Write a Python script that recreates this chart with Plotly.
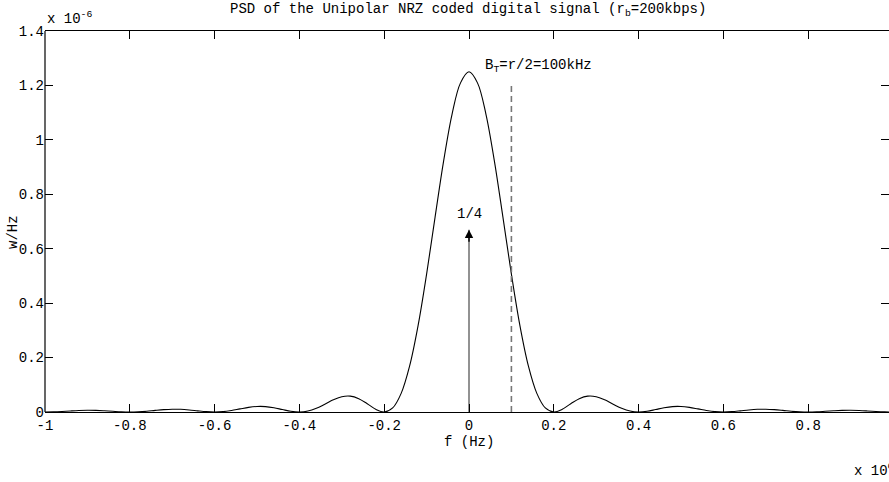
import plotly.graph_objects as go

# ---- data ----
freq_mhz = [
    -1.00, -0.98, -0.96, -0.94, -0.92, -0.90, -0.88, -0.86, -0.84, -0.82,
    -0.80, -0.78, -0.76, -0.74, -0.72, -0.70, -0.68, -0.66, -0.64, -0.62,
    -0.60, -0.58, -0.56, -0.54, -0.52, -0.50, -0.48, -0.46, -0.44, -0.42,
    -0.40, -0.38, -0.36, -0.34, -0.32, -0.30, -0.28, -0.26, -0.24, -0.22,
    -0.20, -0.18, -0.16, -0.14, -0.12, -0.10, -0.08, -0.06, -0.04, -0.02,
    0.00,
    0.02, 0.04, 0.06, 0.08, 0.10, 0.12, 0.14, 0.16, 0.18, 0.20,
    0.22, 0.24, 0.26, 0.28, 0.30, 0.32, 0.34, 0.36, 0.38, 0.40,
    0.42, 0.44, 0.46, 0.48, 0.50, 0.52, 0.54, 0.56, 0.58, 0.60,
    0.62, 0.64, 0.66, 0.68, 0.70, 0.72, 0.74, 0.76, 0.78, 0.80,
    0.82, 0.84, 0.86, 0.88, 0.90, 0.92, 0.94, 0.96, 0.98, 1.00,
]
psd_micro = [
    0.0000, 0.0005, 0.0019, 0.0038, 0.0054, 0.0063, 0.0059, 0.0045, 0.0025, 0.0007,
    0.0000, 0.0008, 0.0030, 0.0061, 0.0088, 0.0103, 0.0099, 0.0076, 0.0043, 0.0013,
    0.0000, 0.0014, 0.0056, 0.0114, 0.0169, 0.0203, 0.0199, 0.0157, 0.0090, 0.0027,
    0.0000, 0.0034, 0.0135, 0.0287, 0.0447, 0.0563, 0.0584, 0.0491, 0.0304, 0.0100,
    0.0000, 0.0149, 0.0684, 0.1692, 0.3182, 0.5066, 0.7160, 0.9210, 1.0939, 1.2094,
    1.2500,
    1.2094, 1.0939, 0.9210, 0.7160, 0.5066, 0.3182, 0.1692, 0.0684, 0.0149, 0.0000,
    0.0100, 0.0304, 0.0491, 0.0584, 0.0563, 0.0447, 0.0287, 0.0135, 0.0034, 0.0000,
    0.0027, 0.0090, 0.0157, 0.0199, 0.0203, 0.0169, 0.0114, 0.0056, 0.0014, 0.0000,
    0.0013, 0.0043, 0.0076, 0.0099, 0.0103, 0.0088, 0.0061, 0.0030, 0.0008, 0.0000,
    0.0007, 0.0025, 0.0045, 0.0059, 0.0063, 0.0054, 0.0038, 0.0019, 0.0005, 0.0000,
]
impulse_f = 0.0
impulse_top = 0.67e-6
bt_freq = 100e3
bt_top = 1.2e-6
x_ticks = [-1.0, -0.8, -0.6, -0.4, -0.2, 0.0, 0.2, 0.4, 0.6, 0.8, 1.0]
x_ticktext = ["-1", "-0.8", "-0.6", "-0.4", "-0.2", "0", "0.2", "0.4", "0.6", "0.8", "1"]
y_ticks = [0.0, 0.2, 0.4, 0.6, 0.8, 1.0, 1.2, 1.4]
y_ticktext = ["0", "0.2", "0.4", "0.6", "0.8", "1", "1.2", "1.4"]

freq_hz = [f * 1e6 for f in freq_mhz]
psd = [p * 1e-6 for p in psd_micro]

FONT = "Liberation Mono, Courier New, monospace"
FS = 14

fig = go.Figure()
fig.add_trace(go.Scatter(x=freq_hz, y=psd, mode="lines",
                         line=dict(color="black", width=1.1, shape="spline"),
                         hoverinfo="skip", showlegend=False))
# impulse shaft
fig.add_trace(go.Scatter(x=[impulse_f, impulse_f], y=[0, impulse_top], mode="lines",
                         line=dict(color="#777777", width=1.6),
                         hoverinfo="skip", showlegend=False))
# bandwidth dashed line
fig.add_trace(go.Scatter(x=[bt_freq, bt_freq], y=[0, bt_top], mode="lines",
                         line=dict(color="#777777", width=1.6, dash="6px,4px"),
                         hoverinfo="skip", showlegend=False))

W, H = 889, 482
L, R, T, B = 45, 0, 31, 70
pw = W - L - R
ph = H - T - B
x0_px = 469
px_per_unit = (x0_px - L) / 1.0e6
x_max = (W - R - x0_px) / px_per_unit

def px2paper_x(px):
    return (px - L) / pw

def px2paper_y(py):
    return (H - B - py) / ph

ann = []
ann.append(dict(x=px2paper_x(468), y=px2paper_y(10), xref="paper", yref="paper",
                text="PSD of the Unipolar NRZ coded digital signal (r<sub>b</sub>=200kbps)",
                showarrow=False, xanchor="center", yanchor="middle",
                font=dict(family=FONT, size=FS, color="black")))
ann.append(dict(x=px2paper_x(45), y=px2paper_y(29), xref="paper", yref="paper",
                text="x 10<sup>-6</sup>", showarrow=False, xanchor="left", yanchor="bottom",
                font=dict(family=FONT, size=FS, color="black")))
ann.append(dict(x=px2paper_x(13), y=px2paper_y(232), xref="paper", yref="paper",
                text="w/Hz", textangle=-90, showarrow=False, xanchor="center", yanchor="middle",
                font=dict(family=FONT, size=FS, color="black")))
ann.append(dict(x=px2paper_x(469), y=px2paper_y(442), xref="paper", yref="paper",
                text="f (Hz)", showarrow=False, xanchor="center", yanchor="middle",
                font=dict(family=FONT, size=FS, color="black")))
ann.append(dict(x=px2paper_x(852), y=px2paper_y(481), xref="paper", yref="paper",
                text="x 10<sup>6</sup>", showarrow=False, xanchor="left", yanchor="bottom",
                font=dict(family=FONT, size=FS, color="black")))
ann.append(dict(x=0.163e6, y=1.27e-6, xref="x", yref="y",
                text="B<sub>T</sub>=r/2=100kHz", showarrow=False, xanchor="center", yanchor="middle",
                font=dict(family=FONT, size=FS, color="black")))
ann.append(dict(x=impulse_f, y=0.728e-6, xref="x", yref="y",
                text="1/4", showarrow=False, xanchor="center", yanchor="middle",
                font=dict(family=FONT, size=FS, color="black")))
ann.append(dict(x=impulse_f, y=impulse_top, ax=impulse_f, ay=impulse_top - 0.05e-6,
                xref="x", yref="y", axref="x", ayref="y", text="",
                showarrow=True, arrowhead=2, arrowsize=1.2, arrowwidth=1.4, arrowcolor="black"))

fig.update_layout(
    width=W, height=H, autosize=False,
    margin=dict(l=L, r=R, t=T, b=B, pad=0),
    paper_bgcolor="white", plot_bgcolor="white",
    font=dict(family=FONT, size=FS, color="black"),
    showlegend=False,
    annotations=ann,
    shapes=[dict(type="line", xref="paper", yref="paper", x0=0, x1=0, y0=0, y1=1,
                 line=dict(color="black", width=1.2))],
    xaxis=dict(range=[-1.0e6, x_max], tickvals=[v * 1e6 for v in x_ticks], ticktext=x_ticktext,
               showline=True, linecolor="black", linewidth=1.2, mirror="ticks",
               ticks="inside", ticklen=8, tickcolor="black", tickwidth=1,
               showgrid=False, zeroline=False,
               tickfont=dict(family=FONT, size=FS, color="black")),
    yaxis=dict(range=[0, 1.4e-6], tickvals=[v * 1e-6 for v in y_ticks], ticktext=y_ticktext,
               showline=False, mirror="ticks",
               ticks="inside", ticklen=8, tickcolor="black", tickwidth=1,
               showgrid=False, zeroline=False,
               tickfont=dict(family=FONT, size=FS, color="black")),
)

fig.write_html("out.html")
